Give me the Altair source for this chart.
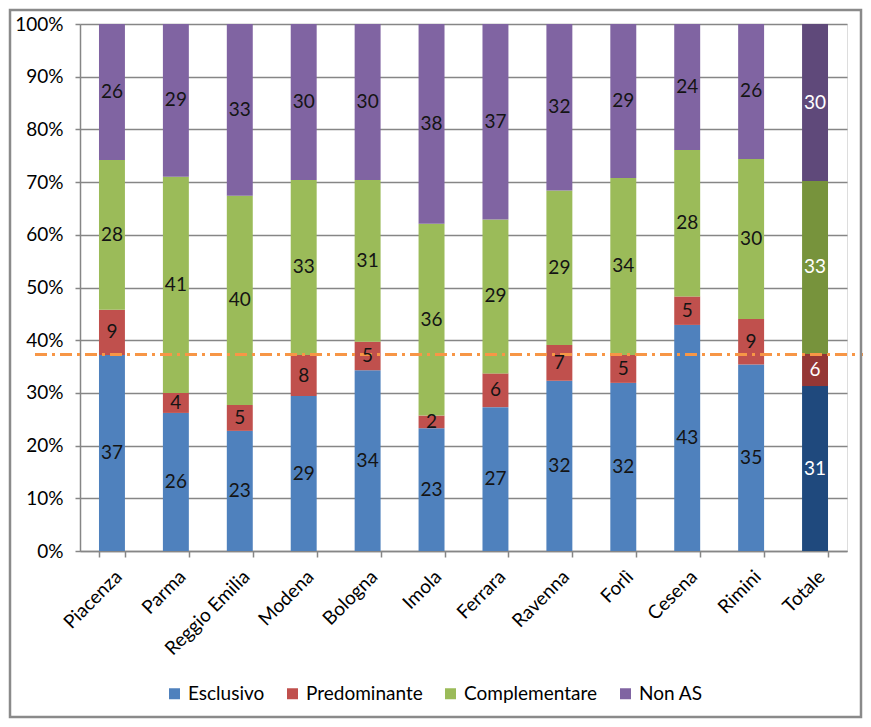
import altair as alt
import pandas as pd

categories = ["Piacenza", "Parma", "Reggio Emilia", "Modena", "Bologna", "Imola",
              "Ferrara", "Ravenna", "Forlì", "Cesena", "Rimini", "Totale"]
series = ["Esclusivo", "Predominante", "Complementare", "Non AS"]
esclusivo = [37.2, 26.2, 22.8, 29.4, 34.3, 23.3, 27.3, 32.3, 31.9, 42.9, 35.4, 31.3]
predominante = [8.6, 3.8, 4.9, 7.8, 5.4, 2.4, 6.4, 6.8, 5.3, 5.4, 8.6, 6.1]
complementare = [28.4, 41.0, 39.7, 33.2, 30.7, 36.4, 29.2, 29.3, 33.6, 27.8, 30.4, 32.8]
non_as = [25.8, 29.0, 32.6, 29.6, 29.6, 37.9, 37.1, 31.6, 29.2, 23.9, 25.6, 29.8]
reference_line = [37.3]

base_colors = ["#4F81BD", "#C0504D", "#9BBB59", "#8064A2"]
total_colors = ["#1F497D", "#953735", "#77933C", "#5F497A"]

FONT = "Lato"
FS = 19

rows = []
for s_i, (s, vals) in enumerate(zip(series, [esclusivo, predominante, complementare, non_as])):
    for c, v in zip(categories, vals):
        is_tot = c == "Totale"
        rows.append({
            "cat": c,
            "series": s,
            "ord": s_i,
            "value": v,
            "key": s + " (Totale)" if is_tot else s,
            "txtcolor": "#FFFFFF" if is_tot else "#141414",
        })
df = pd.DataFrame(rows)

keys = series + [s + " (Totale)" for s in series]
key_colors = base_colors + total_colors

base = alt.Chart(df).transform_stack(
    stack="value", groupby=["cat"], as_=["y0", "y1"], offset="normalize",
    sort=[alt.SortField("ord", order="ascending")]
).transform_calculate(mid="(datum.y0 + datum.y1) / 2")

x_enc = alt.X(
    "cat:N", sort=categories,
    scale=alt.Scale(paddingInner=0.594, paddingOuter=0.297),
    axis=alt.Axis(title=None, labelAngle=-45, tickBand="extent", labelPadding=10,
                  labelFontSize=FS, labelFont=FONT, labelColor="#000000",
                  domainColor="#868686", domainWidth=1.5, tickColor="#868686",
                  tickWidth=1.5, tickSize=6, grid=False),
)

y_scale = alt.Scale(domain=[0, 1], nice=False)

bars = base.mark_bar().encode(
    x=x_enc,
    y=alt.Y("y0:Q", scale=y_scale,
            axis=alt.Axis(title=None, format=".0%",
                          values=[i / 10 for i in range(11)],
                          labelFontSize=FS, labelFont=FONT, labelColor="#000000",
                          labelPadding=12, tickSize=5, tickColor="#868686", tickWidth=1.5,
                          domainColor="#868686", domainWidth=1.5,
                          grid=True, gridColor="#868686", gridWidth=1.5)),
    y2="y1:Q",
    color=alt.Color(
        "key:N",
        scale=alt.Scale(domain=keys, range=key_colors),
        legend=alt.Legend(
            values=series, title=None, orient="none", direction="horizontal",
            legendX=85, legendY=660, symbolType="square", symbolSize=121,
            symbolStrokeWidth=0, labelFontSize=FS, labelFont=FONT,
            labelColor="#000000", columnPadding=18, labelOffset=4, padding=0,
        ),
    ),
)

rule = alt.Chart(pd.DataFrame({"v": [r / 100 for r in reference_line]})).mark_rule(
    color="#F79646", strokeWidth=3, strokeDash=[12, 5, 3, 5]
).encode(y=alt.Y("v:Q", scale=y_scale), x=alt.value(-45), x2=alt.value(790))

labels = base.mark_text(fontSize=FS, font=FONT, baseline="middle").encode(
    x=alt.X("cat:N", sort=categories),
    y=alt.Y("mid:Q", scale=y_scale),
    text=alt.Text("value:Q", format=".0f"),
    fill=alt.Fill("txtcolor:N", scale=None),
)

border = alt.Chart(pd.DataFrame({"a": [0]})).mark_rect(
    fillOpacity=0, stroke="#8A8A8A", strokeWidth=2.5
).encode(x=alt.value(-70), x2=alt.value(781), y=alt.value(-14), y2=alt.value(693))

chart = alt.layer(bars, rule, labels, border).properties(
    width=767, height=527,
    autosize=alt.AutoSizeParams(type="none"),
    padding={"left": 72, "top": 16, "right": 16, "bottom": 168},
).configure_view(strokeWidth=0).configure(background="#FFFFFF")

chart.save("out.html", embed_options={"renderer": "svg", "actions": False})
